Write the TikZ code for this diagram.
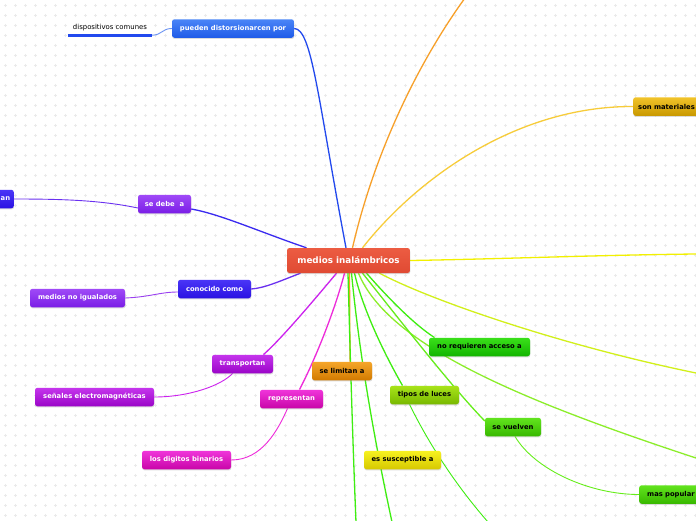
\documentclass[tikz,border=0pt]{standalone}
\usepackage{fontspec}
\newfontfamily\dvs{DejaVu Sans}
\usetikzlibrary{shadows}
\pgfdeclarelayer{bg}
\pgfdeclarelayer{edges}
\pgfsetlayers{bg,edges,main}
\definecolor{gridc}{HTML}{EAEAEA}
\definecolor{cRedT}{HTML}{EC5C42}\definecolor{cRedB}{HTML}{E04A33}
\definecolor{cBlueT}{HTML}{4A85F7}\definecolor{cBlueB}{HTML}{1F5BE8}
\definecolor{cIndT}{HTML}{4A35F7}\definecolor{cIndB}{HTML}{2A12E2}
\definecolor{cVioT}{HTML}{A04AF7}\definecolor{cVioB}{HTML}{7A1EE6}
\definecolor{cPurT}{HTML}{C535EC}\definecolor{cPurB}{HTML}{9A05C8}
\definecolor{cMagT}{HTML}{F035DA}\definecolor{cMagB}{HTML}{C805A8}
\definecolor{cOrT}{HTML}{F5A62A}\definecolor{cOrB}{HTML}{D27A00}
\definecolor{cYgT}{HTML}{A8E41A}\definecolor{cYgB}{HTML}{78B800}
\definecolor{cGrT}{HTML}{3AE01A}\definecolor{cGrB}{HTML}{12B400}
\definecolor{cG2T}{HTML}{62E41E}\definecolor{cG2B}{HTML}{38B800}
\definecolor{cYeT}{HTML}{F7F220}\definecolor{cYeB}{HTML}{D6C800}
\definecolor{cGoT}{HTML}{F2C42A}\definecolor{cGoB}{HTML}{C89800}
\definecolor{lBlue}{HTML}{2249EE}
\definecolor{lBlueL}{HTML}{6A92F2}
\definecolor{lInd}{HTML}{3A2AF0}
\definecolor{lVio}{HTML}{6A30F0}
\definecolor{lVioL}{HTML}{9A40F0}
\definecolor{lPur}{HTML}{CC22EE}
\definecolor{lMag}{HTML}{EE2ADA}
\definecolor{lOr}{HTML}{F7A02A}
\definecolor{lGo}{HTML}{F7CC3A}
\definecolor{lYe}{HTML}{F2F000}
\definecolor{lYg}{HTML}{D2F01A}
\definecolor{lGr}{HTML}{3EEE10}
\definecolor{lGr2}{HTML}{8CEE2A}
\definecolor{lGr3}{HTML}{66EE1A}
\tikzset{
  box/.style={rounded corners=2.5pt, minimum height=18.5pt, inner xsep=4pt, inner ysep=0pt,
    text=white, font=\dvs\bfseries\fontsize{6.8}{8}\selectfont,
    drop shadow={shadow xshift=0.3pt, shadow yshift=-1.2pt, opacity=0.28}},
  boxtext/.style={inner sep=0pt, text=white, font=\dvs\bfseries\fontsize{6.8}{8}\selectfont},
  dark/.style={text=black},
  grad/.style 2 args={top color=#1, bottom color=#2},
  link/.style={line width=1.3pt},
  sublink/.style={line width=0.9pt},
}
\begin{document}
\begin{tikzpicture}[x=1pt,y=-1pt]
\useasboundingbox (0,0) rectangle (696,520);
\begin{pgfonlayer}{bg}
\fill[white] (0,0) rectangle (696,520);
\draw[gridc, line width=0.4pt] \foreach \x in {5,15,...,695}{\foreach \y in {5,15,...,515}{(\x-1.5,\y)--(\x+1.5,\y) (\x,\y-1.5)--(\x,\y+1.5)}};
\end{pgfonlayer}

% nodes
\node[box, grad={cRedT}{cRedB}, minimum width=123pt, minimum height=25pt, font=\dvs\bfseries\fontsize{8.8}{10}\selectfont] (C) at (348.5,260.5) {medios inalámbricos};
\node[box, grad={cBlueT}{cBlueB}, minimum width=122pt] (Pd) at (233,28.5) {pueden distorsionarcen por};
\node[inner sep=0pt, minimum width=84pt, minimum height=14pt, font=\dvs\fontsize{6.9}{8}\selectfont] (D) at (110,28) {dispositivos comunes};
\node[box, grad={cVioT}{cVioB}, minimum width=53pt] (S) at (164.5,204) {se debe\ \ a};
\node[box, grad={cIndT}{cIndB}, minimum width=60pt, anchor=east] (A) at (14,199) {};
\node[boxtext, anchor=west] (At) at (0.5,199) {an};
\node[box, grad={cIndT}{cIndB}, minimum width=73pt] (K) at (214.5,289) {conocido como};
\node[box, grad={cVioT}{cVioB}, minimum width=95pt] (M) at (77.5,298) {medios no igualados};
\node[box, grad={cPurT}{cPurB}, minimum width=61pt] (T) at (242.5,364) {transportan};
\node[box, grad={cPurT}{cPurB}, minimum width=119pt] (E) at (94.5,397) {señales electromagnéticas};
\node[box, grad={cMagT}{cMagB}, minimum width=63pt] (R) at (291.5,399) {representan};
\node[box, grad={cMagT}{cMagB}, minimum width=89pt] (L) at (186.5,460) {los digitos binarios};
\node[box, dark, grad={cOrT}{cOrB}, minimum width=60pt] (O) at (342,371) {se limitan a};
\node[box, dark, grad={cYgT}{cYgB}, minimum width=69pt] (TL) at (424.5,395) {tipos de luces};
\node[box, dark, grad={cGrT}{cGrB}, minimum width=101pt] (N) at (479.5,347) {no requieren acceso a};
\node[box, dark, grad={cG2T}{cG2B}, minimum width=56pt] (V) at (513,427) {se vuelven};
\node[box, dark, grad={cYeT}{cYeB}, minimum width=77pt] (Y) at (402.5,460) {es susceptible a};
\node[box, dark, grad={cGoT}{cGoB}, inner xsep=5pt, minimum width=85pt, text width=75pt, align=left, anchor=west] (SM) at (633,106.5) {son materiales};
\node[box, dark, grad={cG2T}{cG2B}, inner xsep=8pt, minimum width=75pt, text width=59pt, align=left, anchor=west] (P) at (639,494.5) {mas popular};

\coordinate (eTop) at (465,-2);
\coordinate (eYe) at (696,254);
\coordinate (eYg) at (696,373);
\coordinate (eGr) at (696,458);
\coordinate (eB1) at (356,522);
\coordinate (eB2) at (392,522);
\coordinate (eB3) at (488,522);

\begin{pgfonlayer}{edges}
\draw[line width=2.6pt, lBlue] (D.south west) -- (D.south east);
\draw[sublink, lBlueL] (D.south east) .. controls (162,35) and (162,28.5) .. (Pd.west);
\draw[link, lBlue] ([xshift=-2.5pt]C.north) .. controls (318,100) and (312,28.5) .. (Pd.east);
\draw[link, lOr] ([xshift=4pt]C.north) .. controls (375,150) and (420,60) .. (eTop);
\draw[link, lGo] ([xshift=14pt]C.north) .. controls (420,175) and (520,106) .. (SM.west);
\draw[link, lYe] (C.east) .. controls (500,259) and (600,255) .. (eYe);
\draw[link, lInd] ([xshift=-42pt]C.north) .. controls (260,232) and (220,214) .. ([yshift=-5pt]S.east);
\draw[sublink, lVio] (A.east) .. controls (60,199) and (100,200) .. ([yshift=-4pt]S.west);
\draw[link, lVio] ([xshift=-48pt]C.south) .. controls (280,281) and (265,288) .. (K.east);
\draw[sublink, lVioL] (M.east) .. controls (150,297) and (160,292) .. ([yshift=-3pt]K.west);
\draw[link, lPur] ([xshift=-12pt]C.south) .. controls (310,305) and (280,340) .. ([xshift=21pt]T.north);
\draw[sublink, lPur] (E.east) .. controls (190,397) and (222,385) .. ([xshift=-10pt]T.south);
\draw[link, lMag] ([xshift=-4pt]C.south) .. controls (335,310) and (315,360) .. ([xshift=8pt]R.north);
\draw[sublink, lMag] (L.east) .. controls (262,460) and (278,430) .. ([xshift=-4pt]R.south);
\draw[link, lOr] ([xshift=1pt]C.south) -- ([xshift=8pt]O.north);
\draw[link, lGr] ([xshift=-0.5pt]C.south) .. controls (350,350) and (353,450) .. (eB1);
\draw[link, lGr] ([xshift=3pt]C.south) .. controls (358,340) and (370,420) .. (eB2);
\draw[link, lGr] ([xshift=6pt]C.south) .. controls (363,310) and (385,355) .. ([xshift=-22pt]TL.north);
\draw[sublink, lGr] ([xshift=-15pt]TL.south) .. controls (432,450) and (460,490) .. (eB3);
\draw[link, lGr] ([xshift=18pt]C.south) .. controls (390,300) and (415,325) .. ([xshift=-45pt]N.north);
\draw[link, lGr2] ([xshift=10pt]C.south) .. controls (388,345) and (520,400) .. (eGr);
\draw[link, lGr3] ([xshift=14pt]C.south) .. controls (400,320) and (450,385) .. ([yshift=6pt]V.west);
\draw[sublink, lGr3] ([xshift=2pt]V.south) .. controls (535,470) and (590,494.5) .. (P.west);
\draw[link, lYg] ([xshift=31pt]C.south) .. controls (430,300) and (560,345) .. (eYg);
\end{pgfonlayer}
\end{tikzpicture}
\end{document}
